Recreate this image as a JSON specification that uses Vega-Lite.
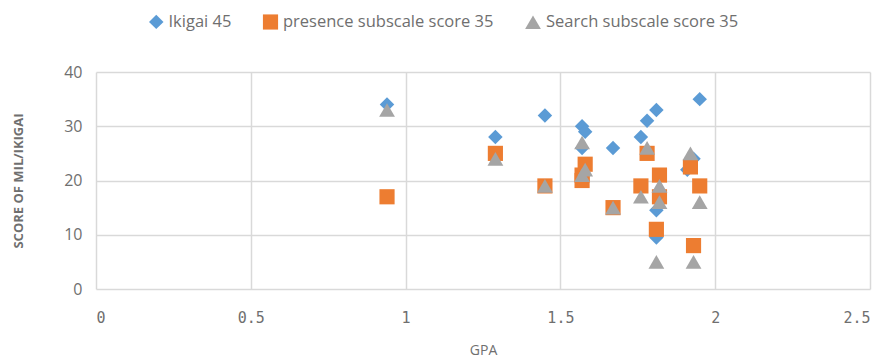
{
  "$schema": "https://vega.github.io/schema/vega-lite/v6.json",
  "width": 774,
  "height": 217,
  "autosize": {"type": "none"},
  "padding": {"left": 96, "top": 72, "right": 15, "bottom": 71},
  "background": "white",
  "config": {
    "view": {"stroke": null},
    "font": "Open Sans"
  },
  "data": {
    "values": [
      {"gpa": 0.94, "score": 34, "series": "Ikigai 45"},
      {"gpa": 1.29, "score": 28, "series": "Ikigai 45"},
      {"gpa": 1.45, "score": 32, "series": "Ikigai 45"},
      {"gpa": 1.57, "score": 30, "series": "Ikigai 45"},
      {"gpa": 1.58, "score": 29, "series": "Ikigai 45"},
      {"gpa": 1.57, "score": 26, "series": "Ikigai 45"},
      {"gpa": 1.67, "score": 26, "series": "Ikigai 45"},
      {"gpa": 1.76, "score": 28, "series": "Ikigai 45"},
      {"gpa": 1.78, "score": 31, "series": "Ikigai 45"},
      {"gpa": 1.81, "score": 33, "series": "Ikigai 45"},
      {"gpa": 1.81, "score": 14.5, "series": "Ikigai 45"},
      {"gpa": 1.81, "score": 9.5, "series": "Ikigai 45"},
      {"gpa": 1.91, "score": 22, "series": "Ikigai 45"},
      {"gpa": 1.93, "score": 24, "series": "Ikigai 45"},
      {"gpa": 1.95, "score": 35, "series": "Ikigai 45"},
      {"gpa": 0.94, "score": 17, "series": "presence subscale score 35"},
      {"gpa": 1.29, "score": 25, "series": "presence subscale score 35"},
      {"gpa": 1.45, "score": 19, "series": "presence subscale score 35"},
      {"gpa": 1.57, "score": 20, "series": "presence subscale score 35"},
      {"gpa": 1.57, "score": 21, "series": "presence subscale score 35"},
      {"gpa": 1.58, "score": 23, "series": "presence subscale score 35"},
      {"gpa": 1.67, "score": 15, "series": "presence subscale score 35"},
      {"gpa": 1.76, "score": 19, "series": "presence subscale score 35"},
      {"gpa": 1.78, "score": 25, "series": "presence subscale score 35"},
      {"gpa": 1.82, "score": 21, "series": "presence subscale score 35"},
      {"gpa": 1.82, "score": 17, "series": "presence subscale score 35"},
      {"gpa": 1.81, "score": 11, "series": "presence subscale score 35"},
      {"gpa": 1.92, "score": 22.5, "series": "presence subscale score 35"},
      {"gpa": 1.93, "score": 8, "series": "presence subscale score 35"},
      {"gpa": 1.95, "score": 19, "series": "presence subscale score 35"},
      {"gpa": 0.94, "score": 33, "series": "Search subscale score 35"},
      {"gpa": 1.29, "score": 24, "series": "Search subscale score 35"},
      {"gpa": 1.45, "score": 19, "series": "Search subscale score 35"},
      {"gpa": 1.57, "score": 27, "series": "Search subscale score 35"},
      {"gpa": 1.57, "score": 21, "series": "Search subscale score 35"},
      {"gpa": 1.58, "score": 22, "series": "Search subscale score 35"},
      {"gpa": 1.67, "score": 15, "series": "Search subscale score 35"},
      {"gpa": 1.76, "score": 17, "series": "Search subscale score 35"},
      {"gpa": 1.78, "score": 26, "series": "Search subscale score 35"},
      {"gpa": 1.82, "score": 19, "series": "Search subscale score 35"},
      {"gpa": 1.82, "score": 16, "series": "Search subscale score 35"},
      {"gpa": 1.81, "score": 5, "series": "Search subscale score 35"},
      {"gpa": 1.92, "score": 25, "series": "Search subscale score 35"},
      {"gpa": 1.93, "score": 5, "series": "Search subscale score 35"},
      {"gpa": 1.95, "score": 16, "series": "Search subscale score 35"}
    ]
  },
  "mark": {"type": "point", "filled": true, "opacity": 1},
  "encoding": {
    "x": {
      "field": "gpa", "type": "quantitative", "title": "GPA",
      "scale": {"domain": [0, 2.5], "nice": false},
      "axis": {
        "values": [0, 0.5, 1, 1.5, 2, 2.5],
        "labelExpr": "datum.value",
        "domain": false, "ticks": false,
        "grid": true, "gridColor": "#d9d9d9", "gridWidth": 1.5,
        "labelPadding": 21, "labelFontSize": 15, "labelColor": "#6f6f6f",
        "labelFont": "DejaVu Sans Mono",
        "titleFontSize": 14, "titleColor": "#6f6f6f", "titleFontWeight": "normal",
        "titlePadding": 18, "titleFont": "Open Sans"
      }
    },
    "y": {
      "field": "score", "type": "quantitative", "title": "SCORE OF MIL/IKIGAI",
      "scale": {"domain": [0, 40], "nice": false},
      "axis": {
        "values": [0, 10, 20, 30, 40],
        "domain": false, "ticks": false,
        "grid": true, "gridColor": "#d9d9d9", "gridWidth": 1.5,
        "labelPadding": 14, "labelFontSize": 16, "labelColor": "#6f6f6f",
        "titleFontSize": 13, "titleColor": "#6f6f6f", "titleFontWeight": "bold",
        "titlePadding": 38
      }
    },
    "color": {
      "field": "series", "type": "nominal",
      "scale": {
        "domain": ["Ikigai 45", "presence subscale score 35", "Search subscale score 35"],
        "range": ["#5b9bd5", "#ed7d31", "#a5a5a5"]
      },
      "legend": {
        "title": null, "orient": "none", "direction": "horizontal",
        "legendX": 52, "legendY": -59,
        "labelFontSize": 16.5, "labelColor": "#6f6f6f", "labelLimit": 400,
        "symbolSize": 110, "columnPadding": 30, "labelOffset": 4
      }
    },
    "shape": {
      "field": "series", "type": "nominal",
      "scale": {
        "domain": ["Ikigai 45", "presence subscale score 35", "Search subscale score 35"],
        "range": ["diamond", "square", "triangle-up"]
      },
      "legend": null
    },
    "size": {
      "field": "series", "type": "nominal",
      "scale": {
        "domain": ["Ikigai 45", "presence subscale score 35", "Search subscale score 35"],
        "range": [210, 250, 160]
      },
      "legend": null
    }
  }
}
